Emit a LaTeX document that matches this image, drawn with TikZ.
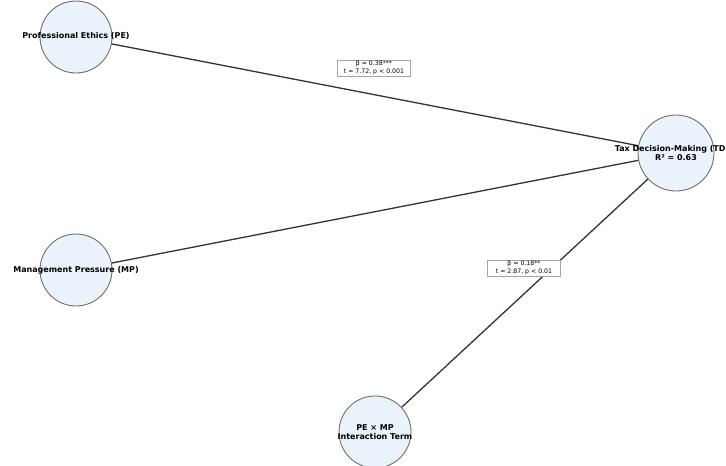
\documentclass[tikz,border=0pt]{standalone}
\usepackage{fontspec}
\setmainfont{DejaVu Sans}
\definecolor{nodefill}{HTML}{EAF2FC}
\definecolor{nodeline}{HTML}{6E6E6E}
\definecolor{edgecol}{HTML}{333333}
\begin{document}
\begin{tikzpicture}[x=1pt,y=-1pt,
  varnode/.style={circle,draw=nodeline,line width=0.9pt,fill=nodefill,minimum size=72pt,inner sep=0pt},
  vlabel/.style={font=\fontsize{8}{9.5}\selectfont\bfseries,align=center,inner sep=0pt},
  edge/.style={draw=edgecol,line width=1.3pt},
  coef/.style={draw=gray!70,fill=white,line width=0.4pt,font=\fontsize{6.2}{7.6}\selectfont,align=center,inner sep=1.2pt}]
\useasboundingbox (0,0) rectangle (726,466);
\clip (0,0) rectangle (726,466);
\node[varnode] (pe) at (76,37) {};
\node[varnode] (mp) at (76,270) {};
\node[varnode,minimum size=76pt] (tdm) at (676,153) {};
\node[varnode] (int) at (375,432) {};
\draw[edge] (pe) -- (tdm);
\draw[edge] (mp) -- (tdm);
\draw[edge] (int) -- (tdm);
\node[vlabel] (pel) at (76,36) {Professional Ethics (PE)};
\node[vlabel] (mpl) at (76,270) {Management Pressure (MP)};
\node[vlabel] (tdml) at (676,153) {Tax Decision-Making (TDM)\\R² = 0.63};
\node[vlabel] (intl) at (375,432) {PE × MP\\Interaction Term};
\node[coef,minimum width=73pt] (c1) at (374,68) {β = 0.38***\\t = 7.72, p < 0.001};
\node[coef,minimum width=73pt] (c2) at (524,268) {β = 0.18**\\t = 2.87, p < 0.01};
\end{tikzpicture}
\end{document}
